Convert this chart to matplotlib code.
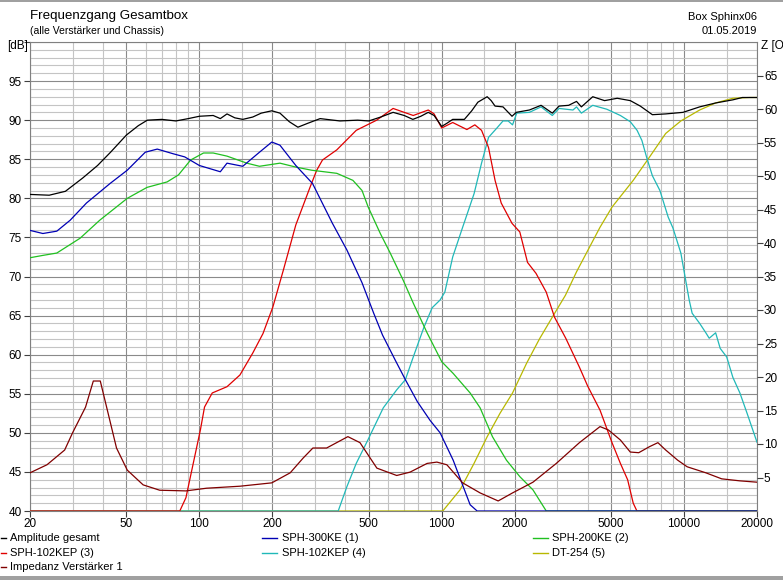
import matplotlib
matplotlib.use("Agg")
import matplotlib.pyplot as plt
from matplotlib.lines import Line2D
from matplotlib.patches import Rectangle
from matplotlib.ticker import FixedLocator, NullFormatter, FixedFormatter

plt.rcParams['font.family'] = ['Liberation Sans Narrow', 'Liberation Sans', 'DejaVu Sans']

# ---------------- data ----------------
title = "Frequenzgang Gesamtbox"
subtitle = "(alle Verstärker und Chassis)"
box_name = "Box Sphinx06"
date_text = "01.05.2019"

x_tick_values = [20, 50, 100, 200, 500, 1000, 2000, 5000, 10000, 20000]
x_tick_labels = ["20", "50", "100", "200", "500", "1000", "2000", "5000", "10000", "20000"]
y_tick_values = [40, 45, 50, 55, 60, 65, 70, 75, 80, 85, 90, 95]
z_tick_values = [5, 10, 15, 20, 25, 30, 35, 40, 45, 50, 55, 60, 65]

amp_f = [20, 24, 28, 33, 38, 43, 50, 56, 61, 70, 80, 90, 100, 114, 122, 130, 140, 151, 166, 180,
         199, 215, 235, 255, 280, 315, 380, 450, 500, 560, 630, 700, 760, 820, 880, 930, 1000, 1050,
         1110, 1240, 1330, 1410, 1540, 1600, 1660, 1790, 1950, 2030, 2300, 2570, 2860, 3050, 3340,
         3600, 3770, 4200, 4700, 5300, 6000, 6600, 7400, 8400, 9900, 11600, 13500, 15900, 17400, 20000]
amp_db = [80.5, 80.4, 80.9, 82.6, 84.2, 85.9, 88.1, 89.3, 90.0, 90.1, 89.9, 90.2, 90.5, 90.6, 90.2,
          90.8, 90.3, 90.1, 90.4, 90.9, 91.2, 90.9, 89.8, 89.1, 89.6, 90.2, 89.9, 90.0, 89.9, 90.4,
          91.0, 90.6, 90.1, 90.5, 91.0, 90.6, 89.2, 89.6, 90.1, 90.1, 91.2, 92.3, 93.0, 92.5, 91.8,
          91.7, 90.5, 91.0, 91.3, 91.9, 90.9, 91.8, 91.9, 92.4, 91.7, 93.0, 92.5, 92.8, 92.5, 91.8,
          90.7, 90.8, 91.0, 91.7, 92.2, 92.6, 92.9, 92.9]

d1_f = [20, 22.6, 25.8, 29.3, 34.2, 42.8, 50.4, 59.8, 67, 78, 87, 100, 122, 130, 151, 177, 199, 215,
        250, 293, 354, 406, 469, 524, 570, 643, 708, 793, 895, 985, 1115, 1210, 1310, 1400, 20000]
d1_db = [75.9, 75.5, 75.8, 77.2, 79.4, 81.9, 83.6, 85.9, 86.3, 85.7, 85.3, 84.2, 83.4, 84.5, 84.1,
         85.9, 87.2, 86.8, 84.2, 81.9, 76.8, 73.4, 69.2, 65.3, 62.5, 59.3, 56.8, 54.0, 51.6, 50.0,
         46.5, 43.6, 40.8, 40.0, 40.0]

d2_f = [20, 22.6, 25.8, 32.2, 38.8, 50.4, 60.8, 73.6, 82, 92, 104, 114, 130, 157, 177, 215, 250, 290,
        369, 430, 469, 497, 558, 613, 694, 763, 870, 1000, 1115, 1310, 1440, 1620, 1850, 2100, 2380,
        2700, 20000]
d2_db = [72.4, 72.7, 73.0, 74.9, 77.2, 80.0, 81.4, 82.1, 83.0, 84.9, 85.8, 85.8, 85.4, 84.5, 84.1,
         84.5, 84.0, 83.6, 83.2, 82.3, 81.0, 78.9, 75.5, 73.0, 69.5, 66.6, 62.8, 59.1, 57.6, 55.1,
         53.2, 49.5, 46.5, 44.4, 42.7, 40.0, 40.0]

d3_f = [20, 83, 88, 101, 105, 113, 130, 147, 166, 183, 201, 222, 250, 286, 305, 322, 369, 444, 539,
        630, 700, 763, 880, 930, 1000, 1110, 1270, 1370, 1460, 1560, 1660, 1760, 1950, 2100, 2260,
        2450, 2700, 2920, 3250, 3700, 4000, 4500, 5050, 5460, 5850, 6170, 6390, 20000]
d3_db = [40.0, 40.0, 41.7, 50.4, 53.3, 55.1, 55.9, 57.4, 60.2, 62.7, 66.1, 70.8, 76.6, 81.4, 83.6,
         84.9, 86.2, 88.7, 90.0, 91.5, 91.0, 90.6, 91.3, 90.8, 89.0, 89.7, 88.8, 89.4, 88.7, 86.5,
         82.3, 79.4, 76.8, 75.7, 71.8, 70.4, 68.0, 64.8, 62.1, 58.4, 56.0, 52.9, 48.7, 46.1, 44.0,
         41.0, 40.0, 40.0]

d4_f = [20, 374, 406, 444, 496, 574, 652, 708, 763, 842, 913, 985, 1030, 1110, 1220, 1360, 1460,
        1560, 1690, 1790, 1880, 1960, 2040, 2300, 2570, 2860, 3050, 3480, 3600, 3770, 4200, 4800,
        5460, 6000, 6400, 6700, 7000, 7400, 7950, 8600, 9000, 9700, 10500, 10800, 11600, 12300,
        12700, 13500, 14100, 15000, 15900, 17000, 18200, 20000]
d4_db = [40.0, 40.0, 43.1, 46.1, 49.1, 53.2, 55.5, 56.8, 59.7, 63.4, 66.0, 67.0, 68.0, 72.5, 76.3,
         80.6, 84.5, 87.8, 89.0, 89.9, 89.9, 89.4, 90.9, 91.0, 91.7, 90.6, 91.5, 91.3, 91.7, 90.9,
         91.9, 91.4, 90.6, 89.8, 88.7, 87.4, 85.3, 82.9, 81.0, 77.6, 76.2, 73.0, 67.0, 65.3, 64.0,
         62.8, 62.1, 62.8, 60.8, 59.7, 57.1, 55.1, 52.5, 48.8]

d5_f = [20, 1010, 1190, 1360, 1540, 1740, 1960, 2240, 2530, 2860, 3240, 3600, 4500, 5050, 6170, 7100,
        8400, 9700, 11600, 13500, 15900, 18600, 20000]
d5_db = [40.0, 40.0, 42.7, 46.1, 49.5, 52.5, 55.1, 58.9, 62.0, 64.8, 67.6, 70.6, 76.3, 78.9, 82.3,
         85.0, 88.3, 89.9, 91.3, 92.2, 92.8, 92.9, 92.9]

imp_f = [20, 23.5, 27.8, 30, 33.9, 36.5, 39, 42, 45.5, 50.4, 58.6, 68.6, 88, 107, 147, 199, 237, 268,
         294, 335, 410, 460, 540, 652, 740, 870, 955, 1050, 1220, 1440, 1710, 1960, 2380, 2970, 3700,
         4500, 4870, 5460, 6000, 6500, 7200, 7800, 8400, 9400, 10300, 12300, 14300, 17000, 20000]
imp_ohm = [5.7, 6.9, 9.1, 11.7, 15.5, 19.4, 19.4, 14.6, 9.4, 6.1, 3.9, 3.1, 3.0, 3.4, 3.7, 4.2, 5.7,
           7.9, 9.4, 9.4, 11.1, 10.2, 6.4, 5.3, 5.8, 7.1, 7.3, 6.9, 4.2, 2.7, 1.5, 2.7, 4.3, 7.1, 10.2,
           12.6, 12.1, 10.6, 8.8, 8.7, 9.6, 10.2, 9.1, 7.6, 6.6, 5.7, 4.8, 4.5, 4.3]

series_labels = ["Amplitude gesamt", "SPH-300KE (1)", "SPH-200KE (2)", "SPH-102KEP (3)",
                 "SPH-102KEP (4)", "DT-254 (5)", "Impedanz Verstärker 1"]

# ---------------- styles ----------------
C_AMP = "#000000"
C_D1 = "#0000b4"
C_D2 = "#20c020"
C_D3 = "#e00000"
C_D4 = "#20b8b8"
C_D5 = "#b8b800"
C_IMP = "#800000"
LW = 0.9

W, H = 783, 580
fig = plt.figure(figsize=(W / 100, H / 100), dpi=100)
fig.patch.set_facecolor("white")


def fx(x):
    return x / W


def fy(y):
    return 1 - y / H


L, R, T, B = 30, 757, 42, 511
ax = fig.add_axes([fx(L), fy(B), (R - L) / W, (B - T) / H])
ax.set_xscale("log")
ax.set_xlim(20, 20000)
ax.set_ylim(40, 100)

# grid
minor_x = []
for dec in [10, 100, 1000, 10000]:
    for m in [1.5, 3, 4, 6, 7, 8, 9]:
        v = m * dec
        if 20 < v < 20000:
            minor_x.append(v)
ax.xaxis.set_major_locator(FixedLocator(x_tick_values))
ax.xaxis.set_major_formatter(FixedFormatter(x_tick_labels))
ax.xaxis.set_minor_locator(FixedLocator(minor_x))
ax.xaxis.set_minor_formatter(NullFormatter())
ax.yaxis.set_major_locator(FixedLocator(y_tick_values + [100]))
ax.yaxis.set_major_formatter(FixedFormatter([str(v) for v in y_tick_values] + [""]))
ax.yaxis.set_minor_locator(FixedLocator([v for v in range(41, 100) if v % 5 != 0]))

ax.grid(which="major", color="#8a8a8a", lw=0.8)
ax.grid(which="minor", color="#c4c4c4", lw=0.8)
ax.set_axisbelow(True)
ax.tick_params(which="major", length=4, width=0.8, color="#404040", labelsize=8.5, pad=2)
ax.tick_params(which="minor", length=0)
ax.tick_params(axis="x", pad=1)
for s in ax.spines.values():
    s.set_color("#808080")
    s.set_linewidth(0.8)

ax.plot(d5_f, d5_db, color=C_D5, lw=LW, zorder=3)
ax.plot(d4_f, d4_db, color=C_D4, lw=LW, zorder=4)
ax.plot(d3_f, d3_db, color=C_D3, lw=LW, zorder=5)
ax.plot(d2_f, d2_db, color=C_D2, lw=LW, zorder=6)
ax.plot(d1_f, d1_db, color=C_D1, lw=LW, zorder=7)
ax.plot(amp_f, amp_db, color=C_AMP, lw=LW, zorder=8)

ax2 = ax.twinx()
ax2.set_ylim(0, 70)
ax2.yaxis.set_major_locator(FixedLocator(z_tick_values))
ax2.tick_params(length=4, width=0.8, color="#404040", labelsize=8.5, pad=1)
for s in ax2.spines.values():
    s.set_visible(False)
ax2.plot(imp_f, imp_ohm, color=C_IMP, lw=LW, zorder=9)

# header texts
fig.text(fx(30), fy(16), title, fontsize=9.6, va="center", ha="left")
fig.text(fx(30), fy(31), subtitle, fontsize=7.5, va="center", ha="left")
fig.text(fx(757), fy(17), box_name, fontsize=8, va="center", ha="right")
fig.text(fx(757), fy(31), date_text, fontsize=8, va="center", ha="right")
fig.text(fx(28), fy(46), "[dB]", fontsize=8.5, va="center", ha="right")
fig.text(fx(761), fy(46), "Z [Ohm]", fontsize=8.5, va="center", ha="left")

# legend
rows = [538, 553, 567]
leg = [
    (1, 6, 10, rows[0], C_AMP, series_labels[0]),
    (1, 6, 10, rows[1], C_D3, series_labels[3]),
    (1, 6, 10, rows[2], C_IMP, series_labels[6]),
    (262, 277, 282, rows[0], C_D1, series_labels[1]),
    (262, 277, 282, rows[1], C_D4, series_labels[4]),
    (533, 548, 552, rows[0], C_D2, series_labels[2]),
    (533, 548, 552, rows[1], C_D5, series_labels[5]),
]
for x0, x1, xt, y, c, lab in leg:
    fig.add_artist(Line2D([fx(x0), fx(x1)], [fy(y), fy(y)], color=c, lw=1.0, transform=fig.transFigure))
    fig.text(fx(xt), fy(y), lab, fontsize=8, va="center", ha="left")

# window borders
fig.add_artist(Rectangle((0, fy(2)), 1, 2 / H, transform=fig.transFigure, color="#a0a0a0", lw=0))
fig.add_artist(Rectangle((0, 0), 1, 4 / H, transform=fig.transFigure, color="#a0a0a0", lw=0))

fig.savefig("out.png", dpi=100)
